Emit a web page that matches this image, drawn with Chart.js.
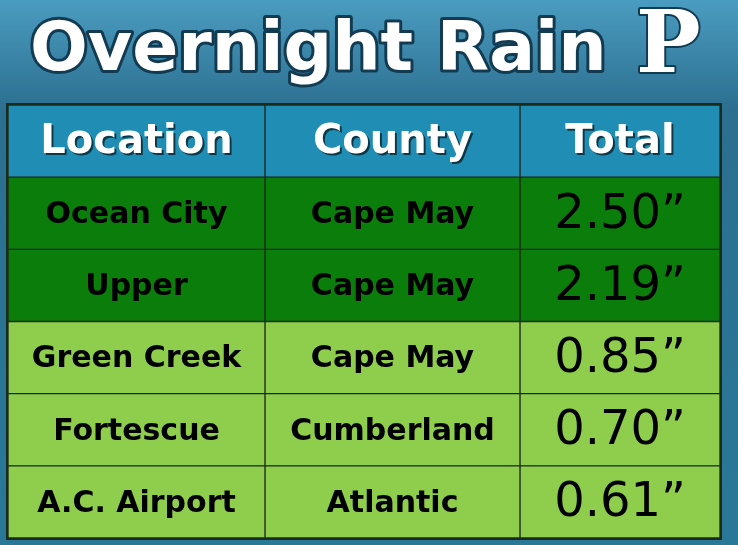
<!DOCTYPE html>
<html><head><meta charset="utf-8">
<script src="https://cdn.jsdelivr.net/npm/chart.js@4.4.1/dist/chart.umd.min.js"></script>
<style>html,body{margin:0;padding:0;background:#2c7d9e}canvas{display:block}</style>
</head><body>
<div style="width:738px;height:545px"><canvas id="c"></canvas></div>
<script>
'use strict';

// table content
const headers = ['Location', 'County', 'Total'];
const locations = ['Ocean City', 'Upper', 'Green Creek', 'Fortescue', 'A.C. Airport'];
const counties = ['Cape May', 'Cape May', 'Cape May', 'Cumberland', 'Atlantic'];
const totals = [2.50, 2.19, 0.85, 0.70, 0.61];

// column widths (layout only)
const colWidths = [257, 255, 200];

const rows = ['header'].concat(locations);
const rowColor = (i) => i === 0 ? '#1f8db4' : (totals[i - 1] >= 2 ? '#0b7d0b' : '#8fcd4c');
const cellText = (row, col) => {
    if (row === 0) return headers[col];
    if (col === 0) return locations[row - 1];
    if (col === 1) return counties[row - 1];
    return totals[row - 1].toFixed(2) + '\u201D';
};

const backdrop = {
    id: 'backdrop',
    beforeDraw(chart) {
        const ctx = chart.ctx;
        const g = ctx.createLinearGradient(0, 0, 0, 545);
        g.addColorStop(0, '#4a9cc0');
        g.addColorStop(0.2, '#2c6f90');
        g.addColorStop(1, '#2a7898');
        ctx.save();
        ctx.fillStyle = g;
        ctx.fillRect(0, 0, chart.width, chart.height);
        // title
        ctx.font = 'bold 68px "DejaVu Sans"';
        ctx.textBaseline = 'middle';
        ctx.lineJoin = 'round';
        ctx.lineWidth = 6;
        ctx.strokeStyle = '#123a50';
        ctx.strokeText('Overnight Rain', 30, 52);
        ctx.fillStyle = '#ffffff';
        ctx.fillText('Overnight Rain', 30, 52);
        ctx.font = 'bold 86px "DejaVu Serif"';
        ctx.lineWidth = 4;
        ctx.strokeText('P', 636, 50);
        ctx.fillText('P', 636, 50);
        // table frame
        const a = chart.chartArea;
        ctx.fillStyle = '#1b2b1b';
        ctx.fillRect(a.left - 2, a.top - 2, a.right - a.left + 4, a.bottom - a.top + 4);
        ctx.restore();
    },
    afterDatasetsDraw(chart) {
        const ctx = chart.ctx;
        ctx.save();
        ctx.textAlign = 'center';
        ctx.textBaseline = 'middle';
        chart.data.datasets.forEach((ds, col) => {
            chart.getDatasetMeta(col).data.forEach((bar, row) => {
                const x = (bar.base + bar.x) / 2;
                const y = bar.y + 2;
                const t = cellText(row, col);
                if (row === 0) {
                    ctx.font = 'bold 40px "DejaVu Sans"';
                    ctx.fillStyle = 'rgba(0,0,0,0.6)';
                    ctx.fillText(t, x + 2, y + 2);
                    ctx.fillStyle = '#ffffff';
                } else {
                    ctx.font = col === 2 ? '500 48px "DejaVu Sans"' : 'bold 30px "DejaVu Sans"';
                    ctx.fillStyle = '#000000';
                }
                ctx.fillText(t, x, y);
            });
        });
        ctx.restore();
    }
};

new Chart(document.getElementById('c'), {
    type: 'bar',
    data: {
        labels: rows,
        datasets: colWidths.map((w, col) => ({
            data: rows.map(() => w),
            backgroundColor: rows.map((r, i) => rowColor(i)),
            borderColor: '#1b2b1b',
            borderWidth: 1,
            borderSkipped: false,
            barPercentage: 1,
            categoryPercentage: 1
        }))
    },
    options: {
        indexAxis: 'y',
        responsive: true,
        maintainAspectRatio: false,
        animation: false,
        layout: { padding: { left: 8, right: 18, top: 105, bottom: 7 } },
        plugins: { legend: { display: false }, tooltip: { enabled: false } },
        scales: {
            x: { stacked: true, display: false, min: 0, max: 712 },
            y: { stacked: true, display: false }
        }
    },
    plugins: [backdrop]
});
</script>
</body></html>
